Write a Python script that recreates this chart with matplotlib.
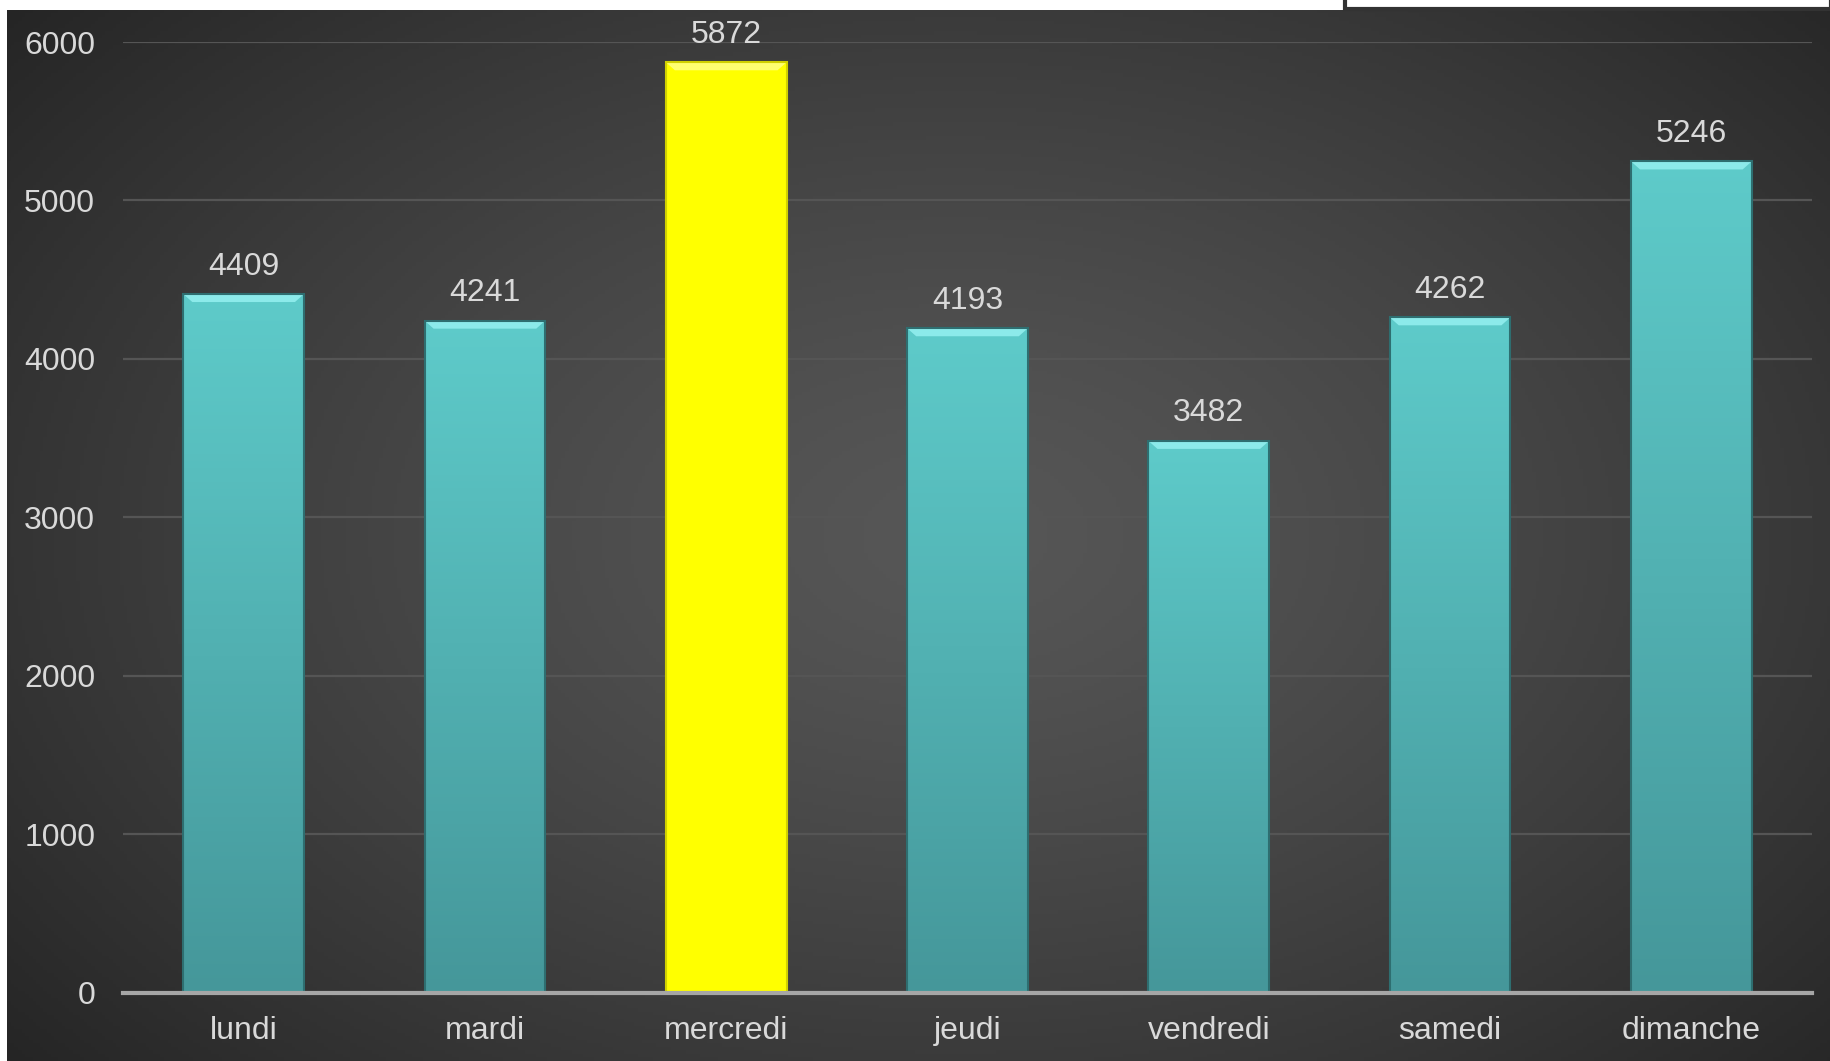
import numpy as np
import matplotlib.pyplot as plt
from matplotlib.patches import Polygon, Rectangle
from matplotlib.colors import to_rgb

jours = ['lundi', 'mardi', 'mercredi', 'jeudi', 'vendredi', 'samedi', 'dimanche']
valeurs = [4409, 4241, 5872, 4193, 3482, 4262, 5246]
couleurs_haut = ['#5ECBCA', '#5ECBCA', '#FFFF00', '#5ECBCA', '#5ECBCA', '#5ECBCA', '#5ECBCA']
couleurs_bas = ['#45979A', '#45979A', '#FFFF00', '#45979A', '#45979A', '#45979A', '#45979A']
couleurs_biseau = ['#8CEAEA', '#8CEAEA', '#FFFF70', '#8CEAEA', '#8CEAEA', '#8CEAEA', '#8CEAEA']
yticks = [0, 1000, 2000, 3000, 4000, 5000, 6000]

plt.rcParams['font.family'] = ['Liberation Sans', 'DejaVu Sans']
W, H = 1831, 1061
fig = plt.figure(figsize=(W / 100, H / 100), dpi=100)
fig.patch.set_facecolor('white')

# fond sombre avec dégradé radial
bg = fig.add_axes([7 / W, 0, 1 - 7 / W, 1 - 10 / H])
yy, xx = np.mgrid[0:1:300j, 0:1:500j]
r = np.sqrt(((xx - 0.52) / 0.75) ** 2 + ((yy - 0.5) / 0.85) ** 2)
fond = 0.34 - 0.22 * np.clip(r, 0, 1) ** 1.3
bg.imshow(np.dstack([fond] * 3), aspect='auto', extent=[0, 1, 0, 1])
bg.set_axis_off()

# petit cadre en haut à droite
fig.patches.append(Rectangle((1345 / W, 1 - 9 / H), 1 - 1345 / W, 12 / H,
                             transform=fig.transFigure, facecolor='white',
                             edgecolor='#333333', linewidth=3))

ax = fig.add_axes([123 / W, 1 - 992.5 / H, (1812 - 123) / W, (992.5 - 42) / H])
ax.set_facecolor('none')
x = np.arange(len(jours))
barres = ax.bar(x, valeurs, width=0.5, color=couleurs_bas, zorder=2)
ax.set_xlim(-0.5, len(jours) - 0.5)
ax.set_ylim(0, 6000)

px_y = 6000 / (992.5 - 42)
px_x = len(jours) / (1812 - 123)
grad = np.linspace(0, 1, 200)[:, None]
for b, c_h, c_b, c_bis in zip(barres, couleurs_haut, couleurs_bas, couleurs_biseau):
    x0, w, h = b.get_x(), b.get_width(), b.get_height()
    ch, cb = np.array(to_rgb(c_h)), np.array(to_rgb(c_b))
    img = cb[None, None, :] + (ch - cb)[None, None, :] * grad[:, :, None]
    im = ax.imshow(img, aspect='auto', extent=[x0, x0 + w, 0, h], origin='lower', zorder=2.1)
    im.set_clip_path(b)
    b.set_edgecolor('#2E6E70' if c_h != '#FFFF00' else '#D0D000')
    b.set_linewidth(1.5)
    b.set_facecolor('none')
    b.set_zorder(2.3)
    dh, dw = 8 * px_y, 9 * px_x
    ax.add_patch(Polygon([[x0, h], [x0 + w, h], [x0 + w - dw, h - dh], [x0 + dw, h - dh]],
                         closed=True, facecolor=c_bis, edgecolor='none', zorder=2.2))
    ax.annotate(f'{int(round(h))}', (x0 + w / 2, h),
                xytext=(0, 9), textcoords='offset points', ha='center', va='bottom',
                fontsize=23, color='#D9D9D9')

ax.set_xticks(x)
ax.set_xticklabels(jours)
ax.set_yticks(yticks)
ax.tick_params(axis='both', length=0, colors='#D9D9D9', labelsize=23)
ax.tick_params(axis='x', pad=17)
ax.tick_params(axis='y', pad=20)
ax.grid(axis='y', color='#555555', linewidth=1.6, zorder=1)
ax.set_axisbelow(True)
for s in ['top', 'right', 'left']:
    ax.spines[s].set_visible(False)
ax.spines['bottom'].set_color('#A6A6A6')
ax.spines['bottom'].set_linewidth(3)
ax.spines['bottom'].set_zorder(3)

fig.savefig('out.png', dpi=100)
